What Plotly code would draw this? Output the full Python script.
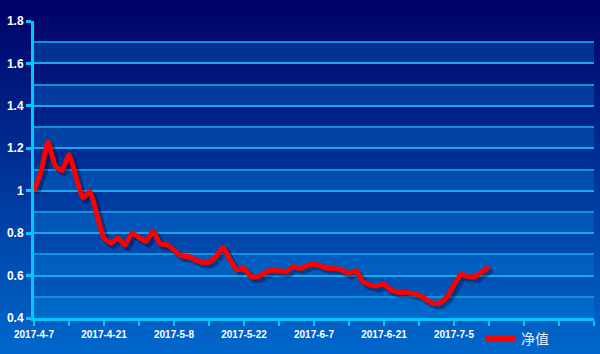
import plotly.graph_objects as go
import urllib.parse

# ---- data ----
values = [1.00, 1.09, 1.23, 1.12, 1.095, 1.17, 1.065, 0.966, 0.996, 0.886,
          0.777, 0.753, 0.777, 0.744, 0.80, 0.78, 0.76, 0.81, 0.75, 0.745,
          0.72, 0.694, 0.69, 0.675, 0.663, 0.663, 0.69, 0.733, 0.675, 0.628,
          0.634, 0.595, 0.595, 0.614, 0.626, 0.623, 0.618, 0.642, 0.634, 0.647,
          0.653, 0.645, 0.634, 0.634, 0.626, 0.61, 0.623, 0.571, 0.556, 0.551,
          0.559, 0.532, 0.521, 0.521, 0.516, 0.508, 0.488, 0.469, 0.472, 0.50,
          0.556, 0.606, 0.595, 0.595, 0.618, 0.642]
x_index = list(range(len(values)))
label_positions = [0, 10, 20, 30, 40, 50, 60]
date_labels = ["2017-4-7", "2017-4-21", "2017-5-8", "2017-5-22",
               "2017-6-7", "2017-6-21", "2017-7-5"]
n_slots = 80
series_name = "净值"

# ---- layout geometry ----
W, H = 600, 354
ML, MR, MT, MB = 34, 6, 21, 36
PW, PH = W - ML - MR, H - MT - MB
Y0, Y1 = 0.4, 1.8

tickvals = list(range(0, n_slots + 1, 5))
lab = dict(zip(label_positions, date_labels))
ticktext = [lab.get(v, "") for v in tickvals]

fig = go.Figure()

# shadow on main axes (drawn first), offset by shifting the axis ranges
dx_units = 3 / (PW / n_slots)
dy_units = 3 / (PH / (Y1 - Y0))
fig.add_trace(go.Scatter(
    x=x_index, y=values, mode="lines",
    line=dict(color="rgba(0,0,40,0.35)", width=6, shape="spline", smoothing=0.5),
    showlegend=False, hoverinfo="skip"))

# main red line on overlay axes (drawn on top)
fig.add_trace(go.Scatter(
    x=x_index, y=values, mode="lines", name=series_name, xaxis="x2", yaxis="y2",
    line=dict(color="#ff0000", width=5, shape="spline", smoothing=0.5)))

# alternating bands
shapes = []
b = Y0
while b < Y1 - 1e-9:
    shapes.append(dict(type="rect", xref="paper", yref="y2", x0=0, x1=1,
                       y0=b, y1=b + 0.1, fillcolor="rgba(0,140,230,0.28)",
                       line=dict(width=0), layer="below"))
    b += 0.2

svg = ("<svg xmlns='http://www.w3.org/2000/svg' width='600' height='354' preserveAspectRatio='none'>"
       "<defs><linearGradient id='g' x1='0' y1='0' x2='0' y2='1'>"
       "<stop offset='0' stop-color='#000066'/><stop offset='1' stop-color='#0068cc'/>"
       "</linearGradient></defs><rect width='600' height='354' fill='url(#g)'/></svg>")
src = "data:image/svg+xml;charset=utf-8," + urllib.parse.quote(svg)

fig.update_layout(
    width=W, height=H,
    margin=dict(l=ML, r=MR, t=MT, b=MB, pad=0, autoexpand=False),
    paper_bgcolor="#003399", plot_bgcolor="rgba(0,0,0,0)",
    images=[dict(source=src, xref="paper", yref="paper",
                 x=-ML / PW, y=1 + MT / PH, sizex=W / PW, sizey=H / PH,
                 xanchor="left", yanchor="top", sizing="stretch", layer="below")],
    shapes=shapes,
    showlegend=True,
    legend=dict(x=(481 - ML) / PW, y=-5 / PH, xanchor="left", yanchor="top",
                orientation="h", bgcolor="rgba(0,0,0,0)",
                font=dict(family="Noto Sans CJK SC", size=14, color="#e8ecff")),
    xaxis=dict(range=[-dx_units, n_slots - dx_units], visible=False, fixedrange=True),
    yaxis=dict(range=[Y0 + dy_units, Y1 + dy_units], visible=False, fixedrange=True),
    xaxis2=dict(overlaying="x", range=[0, n_slots], tickmode="array", tickvals=tickvals,
                ticktext=ticktext, showgrid=False, zeroline=False, side="bottom",
                showline=True, linecolor="#00c8ff", linewidth=3,
                ticks="outside", ticklen=5, tickwidth=2, tickcolor="#00c8ff",
                tickfont=dict(family="Liberation Sans", size=10, color="white", weight="bold"),
                fixedrange=True),
    yaxis2=dict(overlaying="y", range=[Y0, Y1], tickmode="array", side="left",
                tickvals=[0.4, 0.6, 0.8, 1.0, 1.2, 1.4, 1.6, 1.8],
                ticktext=["0.4", "0.6", "0.8", "1", "1.2", "1.4", "1.6", "1.8"],
                showgrid=True, gridcolor="#18a8ea", gridwidth=1.5,
                minor=dict(tickvals=[0.5, 0.7, 0.9, 1.1, 1.3, 1.5, 1.7],
                           showgrid=True, gridcolor="#1490d8", gridwidth=1.5, ticks=""),
                zeroline=False, showline=True, linecolor="#00c8ff", linewidth=3,
                ticks="outside", ticklen=5, tickwidth=3, tickcolor="#00c8ff",
                tickfont=dict(family="Liberation Sans", size=12, color="white", weight="bold"),
                fixedrange=True),
)

fig.write_html("out.html", config={"displayModeBar": False})
